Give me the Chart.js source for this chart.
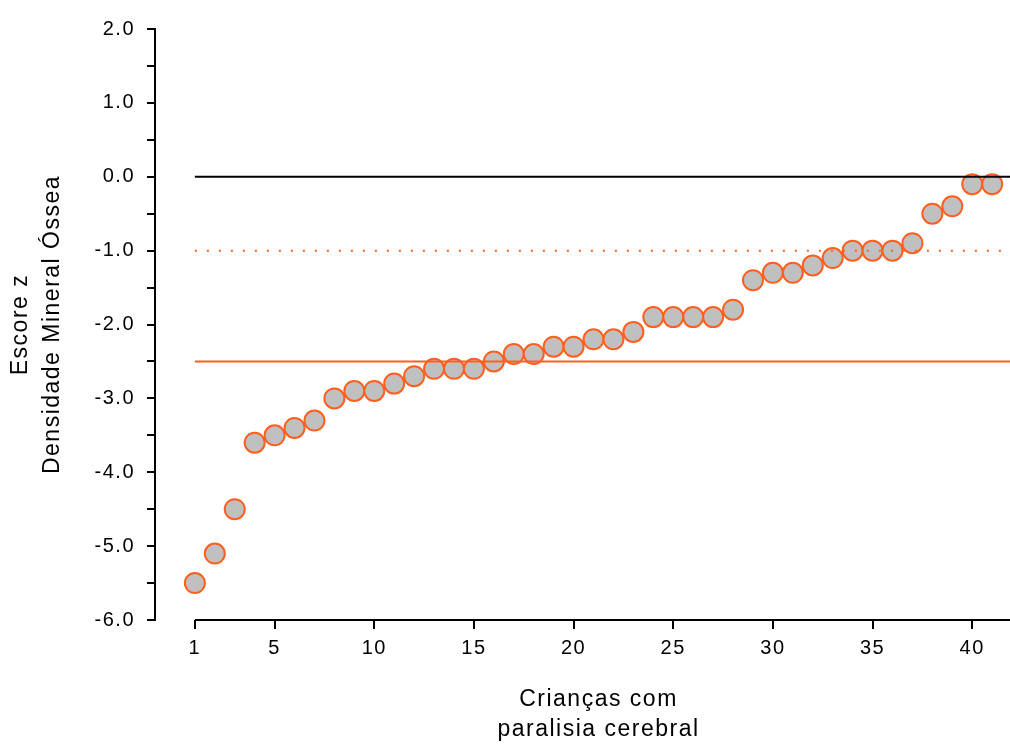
<!DOCTYPE HTML><html>
<head>
  <meta charset="utf-8">
  <script src="https://cdn.jsdelivr.net/npm/chart.js"></script>
  <style>
    html, body { margin: 0; padding: 0; background: #fff; overflow: hidden; }
    #wrap { width: 1054px; height: 747px; }
  </style>
</head>
<body>
  <div id="wrap"><canvas id="bmdChart" width="1054" height="747"></canvas></div>
<script>
  // children with cerebral palsy, ordered by z-score
  const children = [1, 2, 3, 4, 5, 6, 7, 8, 9, 10, 11, 12, 13, 14, 15, 16, 17, 18, 19, 20,
                    21, 22, 23, 24, 25, 26, 27, 28, 29, 30, 31, 32, 33, 34, 35, 36, 37, 38, 39, 40, 41];
  const zScores = [-5.5, -5.1, -4.5, -3.6, -3.5, -3.4, -3.3, -3.0, -2.9, -2.9,
                   -2.8, -2.7, -2.6, -2.6, -2.6, -2.5, -2.4, -2.4, -2.3, -2.3,
                   -2.2, -2.2, -2.1, -1.9, -1.9, -1.9, -1.9, -1.8, -1.4, -1.3,
                   -1.3, -1.2, -1.1, -1.0, -1.0, -1.0, -0.9, -0.5, -0.4, -0.1, -0.1];
  const xTicks = [1, 5, 10, 15, 20, 25, 30, 35, 40];
  const normalLine = 0;      // reference
  const osteopeniaLine = -1; // dotted
  const osteoporosisLine = -2.5;

  const orange = '#ff5f1f';
  const xMin = -1, xMax = 43.5;

  function refLine(level, color, dash) {
    return {
      type: 'line',
      data: [{x: children[0], y: level}, {x: xMax, y: level}],
      borderColor: color,
      borderWidth: 2,
      borderDash: dash,
      pointRadius: 0,
      fill: false,
      order: 0
    };
  }

  // the x axis starts at child 1, not at the y axis
  const xAxisLine = {
    id: 'xAxisLine',
    afterDraw(chart) {
      const sx = chart.scales.x;
      const ctx = chart.ctx;
      ctx.save();
      ctx.strokeStyle = '#000';
      ctx.lineWidth = 2;
      ctx.beginPath();
      ctx.moveTo(sx.getPixelForValue(children[0]), sx.top);
      ctx.lineTo(sx.right, sx.top);
      ctx.stroke();
      ctx.restore();
    }
  };

  const spacing = {
    id: 'spacing',
    beforeDraw(chart) { chart.ctx.letterSpacing = '1.5px'; }
  };

  Chart.defaults.font.family = "'Liberation Sans', Arial, sans-serif";
  Chart.defaults.color = '#000';

  const ctx = document.getElementById('bmdChart').getContext('2d');
  const bmdChart = new Chart(ctx, {
    type: 'scatter',
    data: {
      datasets: [
        refLine(normalLine, '#000', []),
        refLine(osteopeniaLine, orange, [2, 10]),
        refLine(osteoporosisLine, orange, []),
        {
          data: children.map((c, i) => ({x: c, y: zScores[i]})),
          backgroundColor: '#c0c0c0',
          borderColor: orange,
          borderWidth: 2,
          pointRadius: 10,
          order: 1
        }
      ]
    },
    options: {
      responsive: false,
      animation: false,
      events: [],
      layout: { padding: { top: 29, right: 0, bottom: 0, left: 0 } },
      plugins: { legend: { display: false }, tooltip: { enabled: false } },
      scales: {
        x: {
          type: 'linear',
          min: xMin,
          max: xMax,
          afterBuildTicks: s => { s.ticks = xTicks.map(v => ({value: v})); },
          afterFit: s => { s.height = 127; },
          grid: { drawOnChartArea: false, tickLength: 9, color: '#000', lineWidth: 2 },
          border: { display: false },
          ticks: { font: { size: 20 }, padding: 7, maxRotation: 0, autoSkip: false },
          title: {
            display: true,
            text: ['Crianças com', 'paralisia cerebral'],
            font: { size: 23, lineHeight: 1.31 },
            padding: { top: 0, bottom: 2 }
          }
        },
        y: {
          min: -6,
          max: 2,
          afterFit: s => { s.width = 155; },
          grid: { drawOnChartArea: false, tickLength: 8, color: '#000', lineWidth: 2 },
          border: { color: '#000', width: 2 },
          ticks: {
            stepSize: 0.5,
            font: { size: 20 },
            padding: 12,
            callback: v => (v % 1 === 0 ? v.toFixed(1) : '')
          },
          title: {
            display: true,
            text: ['Escore z', 'Densidade Mineral Óssea'],
            font: { size: 23, lineHeight: 1.39 },
            padding: { top: 5, bottom: 0 }
          }
        }
      }
    },
    plugins: [xAxisLine, spacing]
  });
</script>
</body>
</html>
